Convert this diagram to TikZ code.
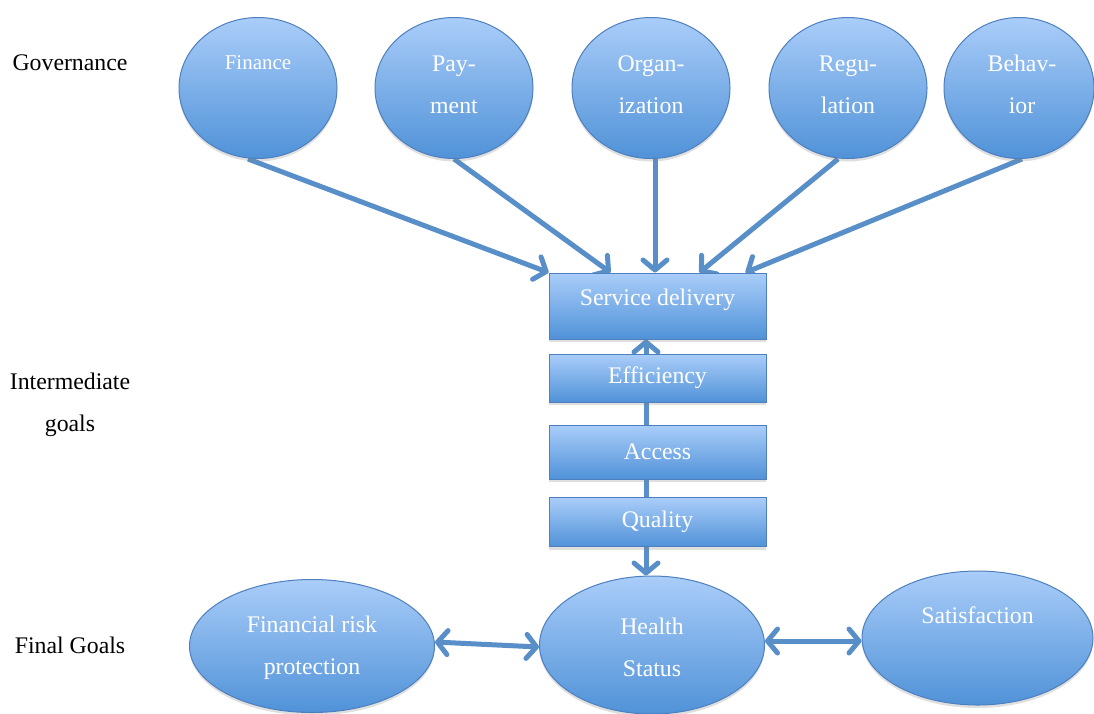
\documentclass[tikz,border=0pt]{standalone}
\usepackage{fontspec}
\setmainfont{Liberation Serif}
\usetikzlibrary{shapes.geometric,arrows.meta,shadows,backgrounds}
\definecolor{topb}{RGB}{170,205,249}
\definecolor{botb}{RGB}{80,146,216}
\definecolor{edgeb}{RGB}{78,128,190}
\definecolor{arrb}{RGB}{88,143,200}
\begin{document}
\begin{tikzpicture}[x=1pt,y=-1pt,
  shapebase/.style={draw=edgeb, line width=1pt, top color=topb, bottom color=botb,
    drop shadow={shadow xshift=0pt,shadow yshift=-3pt,opacity=0.25}},
  oval/.style={shapebase, ellipse, inner sep=0pt},
  goalbox/.style={shapebase, rectangle, minimum width=217pt, inner sep=0pt, text=white,
    font=\fontsize{23.8}{28}\selectfont},
  txt/.style={text=white, align=center, inner sep=0pt, font=\fontsize{23.8}{42}\selectfont},
  side/.style={text=black, align=center, inner sep=0pt, font=\fontsize{23.8}{42}\selectfont},
  conn/.style={draw=arrb, line width=5pt},
  tip/.style={-{Straight Barb[length=10pt,width=24pt,round]}},
  dtip/.style={{Straight Barb[length=10pt,width=24pt,round]}-{Straight Barb[length=10pt,width=24pt,round]}},
]
\useasboundingbox (0,0) rectangle (1094,713);

% side labels
\node[side] (lgov) at (70,63) {Governance};
\node[side] (lint) at (70,405) {Intermediate\\goals};
\node[side] (lfin) at (70,645) {Final Goals};

% governance ellipses
\node[oval, minimum width=158pt, minimum height=141pt] (fin) at (258,88) {};
\node[oval, minimum width=158pt, minimum height=141pt] (pay) at (454,88) {};
\node[oval, minimum width=158pt, minimum height=141pt] (org) at (651,88) {};
\node[oval, minimum width=158pt, minimum height=141pt] (reg) at (848,88) {};
\node[oval, minimum width=150pt, minimum height=141pt] (beh) at (1019,88) {};
\node[txt, font=\fontsize{21}{25}\selectfont] (fint) at (258,63) {Finance};
\node[txt] (payt) at (454,84.5) {Pay-\\ment};
\node[txt] (orgt) at (651,84.5) {Organ-\\ization};
\node[txt] (regt) at (848,84.5) {Regu-\\lation};
\node[txt] (beht) at (1022,84.5) {Behav-\\ior};

% intermediate boxes
\node[goalbox, minimum height=66pt] (sd) at (657.5,306) {};
\node[txt] (sdt) at (657.5,300) {Service delivery};
\node[goalbox, minimum height=48pt] (eff) at (657.5,378) {Efficiency};
\node[goalbox, minimum height=54pt] (acc) at (657.5,452) {Access};
\node[goalbox, minimum height=49pt] (qual) at (657.5,522) {Quality};

% final goals
\node[oval, minimum width=245pt, minimum height=133pt] (frp) at (312,646) {};
\node[oval, minimum width=225pt, minimum height=138pt] (hs) at (652,645) {};
\node[oval, minimum width=231pt, minimum height=134pt] (sat) at (977.5,638) {};
\node[txt] (frpt) at (312,647.5) {Financial risk\\protection};
\node[txt] (hst) at (652,647.5) {Health\\Status};
\node[txt] (satt) at (977.5,615.5) {Satisfaction};

\begin{scope}[on background layer]
  \fill[white] (0,0) rectangle (1094,713);
  \draw[conn,tip] ([xshift=-10pt]fin.south) -- ([xshift=-109pt]sd.north);
  \draw[conn,tip] (pay.south) -- ([xshift=-47pt]sd.north);
  \draw[conn,tip] ([xshift=4pt]org.south) -- ([xshift=-2.5pt]sd.north);
  \draw[conn,tip] ([xshift=-10pt]reg.south) -- ([xshift=42pt]sd.north);
  \draw[conn,tip] ([xshift=3pt]beh.south) -- ([xshift=88pt]sd.north);
  \draw[conn,tip] ([xshift=-11.5pt]eff.north) -- ([xshift=-11.5pt]sd.south);
  \draw[conn] ([xshift=-11.5pt]acc.north) -- ([xshift=-11.5pt]eff.south);
  \draw[conn] ([xshift=-11.5pt]qual.north) -- ([xshift=-11.5pt]acc.south);
  \draw[conn,tip] ([xshift=-11.5pt]qual.south) -- ([xshift=-6pt]hs.north);
  \draw[conn,dtip] ([yshift=4pt]frp.east) -- ([yshift=-2pt]hs.west);
  \draw[conn,dtip] ([yshift=4pt]hs.east) -- ([yshift=-3pt]sat.west);
\end{scope}
\end{tikzpicture}
\end{document}
